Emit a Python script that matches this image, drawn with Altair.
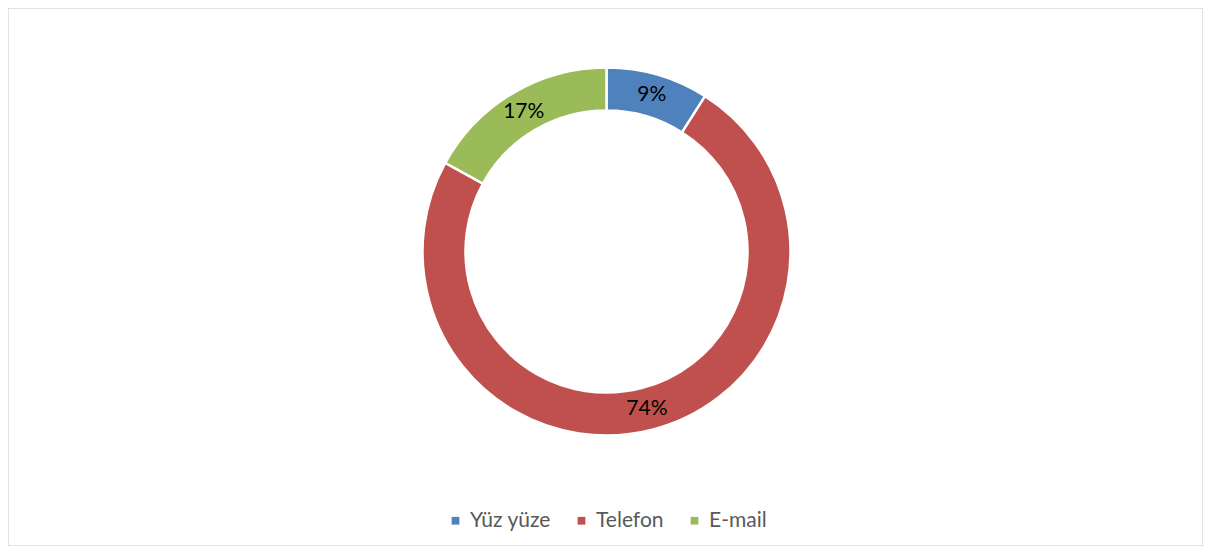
import altair as alt
import pandas as pd

categories = ["Yüz yüze", "Telefon", "E-mail"]
values = [9, 74, 17]
colors = ["#4F81BD", "#C0504D", "#9BBB59"]

df = pd.DataFrame({
    "kanal": categories,
    "deger": values,
    "sira": list(range(len(categories))),
    "etiket": [f"{v}%" for v in values],
})

cx, cy = 598.5, 243.5

base = alt.Chart(df).encode(
    theta=alt.Theta("deger:Q", stack=True),
    order=alt.Order("sira:O"),
)

arcs = base.mark_arc(outerRadius=184, innerRadius=141, stroke="white", strokeWidth=2.5).encode(
    x=alt.value(cx),
    y=alt.value(cy),
    color=alt.Color(
        "kanal:N",
        scale=alt.Scale(domain=categories, range=colors),
        sort=categories,
        legend=alt.Legend(
            title=None,
            orient="none",
            direction="horizontal",
            legendX=437,
            legendY=502,
            symbolType="square",
            symbolSize=60,
            symbolStrokeWidth=0,
            labelFont="Lato",
            labelFontSize=21,
            labelColor="#595959",
            labelLimit=300,
            columnPadding=20,
            labelOffset=4,
        ),
    ),
)

labels = base.mark_text(radius=162.5, font="Lato", fontSize=21, color="black").encode(
    x=alt.value(cx),
    y=alt.value(cy),
    text="etiket:N",
)

chart = (
    alt.layer(arcs, labels)
    .properties(
        width=1195,
        height=538,
        autosize=alt.AutoSizeParams(type="none"),
        padding=0,
    )
    .configure_view(stroke="#d9d9d9", strokeWidth=1.5)
)

chart.save("out.html", embed_options={"renderer": "svg", "actions": False})
